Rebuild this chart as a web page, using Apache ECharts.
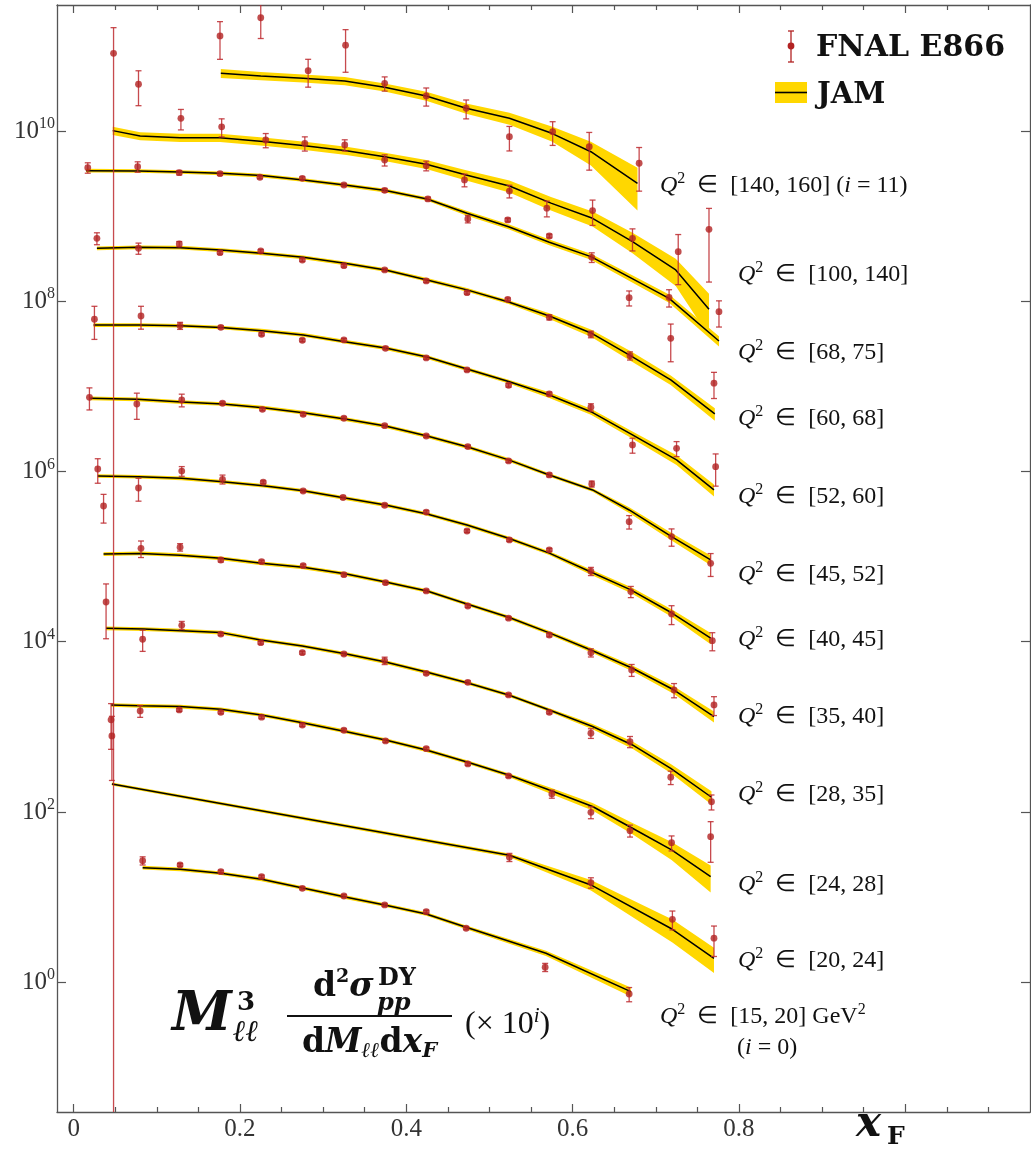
<!DOCTYPE html>
<html>
<head>
<meta charset="utf-8">
<title>E866 pp Drell-Yan vs JAM</title>
<script src="https://cdn.jsdelivr.net/npm/echarts@6/dist/echarts.min.js"></script>
<style>
  html, body { margin: 0; padding: 0; background: #fff; }
  #main { width: 1031px; height: 1149px; }
</style>
</head>
<body>
<div id="main"></div>
<script>
// ---------------------------------------------------------------
// Q^2 bins (GeV^2); each bin is drawn multiplied by 10^i
// ---------------------------------------------------------------
const binRanges = ['[15, 20]', '[20, 24]', '[24, 28]', '[28, 35]', '[35, 40]', '[40, 45]',
                   '[45, 52]', '[52, 60]', '[60, 68]', '[68, 75]', '[100, 140]', '[140, 160]'];
const scalePow = [0, 1, 2, 3, 4, 5, 6, 7, 8, 9, 10, 11];

// FNAL E866 pp: x_F of each point, one row per Q^2 bin
const e866X = [
  [0.083, 0.128, 0.177, 0.226, 0.275, 0.325, 0.374, 0.424, 0.472, 0.567, 0.668],
  [0.046, 0.524, 0.622, 0.720, 0.770],
  [0.045, 0.080, 0.127, 0.177, 0.226, 0.275, 0.325, 0.375, 0.424, 0.474, 0.523, 0.575, 0.622, 0.669, 0.719, 0.766],
  [0.039, 0.083, 0.130, 0.177, 0.225, 0.275, 0.325, 0.374, 0.424, 0.474, 0.523, 0.572, 0.622, 0.669, 0.718, 0.767],
  [0.036, 0.081, 0.128, 0.177, 0.226, 0.276, 0.325, 0.375, 0.424, 0.474, 0.523, 0.572, 0.622, 0.671, 0.722, 0.770],
  [0.029, 0.078, 0.130, 0.179, 0.228, 0.276, 0.324, 0.374, 0.424, 0.473, 0.524, 0.572, 0.622, 0.670, 0.719, 0.768],
  [0.019, 0.076, 0.130, 0.179, 0.227, 0.276, 0.325, 0.374, 0.424, 0.474, 0.523, 0.572, 0.623, 0.668, 0.719, 0.766],
  [0.025, 0.081, 0.128, 0.177, 0.226, 0.275, 0.325, 0.375, 0.424, 0.473, 0.523, 0.572, 0.622, 0.672, 0.725, 0.772],
  [0.028, 0.078, 0.127, 0.176, 0.225, 0.275, 0.325, 0.374, 0.424, 0.473, 0.522, 0.572, 0.622, 0.669, 0.718, 0.770],
  [0.017, 0.077, 0.127, 0.176, 0.224, 0.275, 0.325, 0.374, 0.426, 0.474, 0.522, 0.572, 0.623, 0.668, 0.716, 0.776],
  [0.048, 0.078, 0.129, 0.178, 0.231, 0.278, 0.326, 0.374, 0.424, 0.470, 0.524, 0.569, 0.624, 0.672, 0.727, 0.764],
  [0.176, 0.225, 0.282, 0.327, 0.374, 0.424, 0.472, 0.524, 0.576, 0.620, 0.680]
];
// M^3 d2sigma/dM dxF (before the 10^i factor)
const e866Sig = [
  [26.8, 23.9, 19.9, 17.4, 12.7, 10.3, 8.09, 6.75, 4.31, 1.50, 0.728],
  [78.2, 2.94, 1.48, 0.549, 0.329],
  [12.1, 15.4, 15.8, 14.8, 13.0, 10.5, 9.12, 6.83, 5.54, 3.67, 2.65, 1.63, 0.992, 0.604, 0.436, 0.513],
  [29.3, 10.7, 15.6, 12.3, 9.75, 7.44, 7.18, 5.99, 4.26, 3.34, 2.37, 1.48, 0.841, 0.670, 0.256, 0.132],
  [39.3, 12.5, 12.9, 9.13, 8.72, 7.83, 6.14, 4.94, 3.95, 2.63, 1.89, 1.20, 0.744, 0.466, 0.271, 0.181],
  [10.7, 6.40, 10.1, 8.10, 7.47, 5.90, 4.95, 4.01, 3.34, 2.00, 1.57, 1.20, 0.673, 0.388, 0.212, 0.103],
  [7.44, 6.21, 6.92, 6.33, 5.38, 4.70, 4.22, 3.45, 2.61, 1.96, 1.33, 0.910, 0.714, 0.257, 0.172, 0.0835],
  [6.14, 6.71, 5.16, 4.94, 4.09, 3.48, 3.51, 2.80, 2.16, 1.56, 1.03, 0.814, 0.568, 0.205, 0.187, 0.114],
  [5.49, 4.19, 4.70, 3.72, 3.89, 3.05, 2.62, 2.33, 1.73, 1.26, 1.05, 0.648, 0.409, 0.229, 0.367, 0.109],
  [3.71, 3.81, 3.24, 3.15, 2.86, 2.78, 2.32, 2.01, 1.59, 0.925, 0.901, 0.584, 0.328, 0.110, 0.111, 0.0754],
  [8.18, 3.54, 1.41, 1.12, 0.784, 0.717, 0.685, 0.456, 0.391, 0.266, 0.197, 0.124, 0.116, 0.0549, 0.0382, 0.070],
  [1.31, 2.14, 0.511, 1.02, 0.363, 0.258, 0.185, 0.0857, 0.0981, 0.0654, 0.0418]
];
// relative uncertainty of each point
const e866Err = [
  [0.11, 0.04, 0.04, 0.04, 0.04, 0.04, 0.04, 0.04, 0.04, 0.11, 0.19],
  [0.70, 0.11, 0.14, 0.25, 0.39],
  [0.55, 0.16, 0.04, 0.04, 0.04, 0.04, 0.04, 0.04, 0.04, 0.04, 0.04, 0.11, 0.16, 0.16, 0.20, 0.50],
  [0.63, 0.28, 0.11, 0.04, 0.04, 0.04, 0.04, 0.10, 0.04, 0.04, 0.04, 0.04, 0.13, 0.15, 0.18, 0.20],
  [0.37, 0.22, 0.10, 0.055, 0.04, 0.04, 0.04, 0.04, 0.04, 0.04, 0.04, 0.05, 0.11, 0.16, 0.19, 0.25],
  [0.32, 0.30, 0.13, 0.12, 0.04, 0.04, 0.04, 0.04, 0.04, 0.04, 0.04, 0.04, 0.11, 0.15, 0.25, 0.24],
  [0.29, 0.34, 0.17, 0.04, 0.04, 0.04, 0.04, 0.04, 0.04, 0.04, 0.04, 0.05, 0.08, 0.18, 0.23, 0.30],
  [0.42, 0.30, 0.095, 0.04, 0.04, 0.04, 0.04, 0.04, 0.04, 0.04, 0.05, 0.05, 0.10, 0.20, 0.20, 0.41],
  [0.16, 0.15, 0.07, 0.04, 0.04, 0.04, 0.04, 0.04, 0.04, 0.04, 0.04, 0.07, 0.09, 0.11, 0.47, 0.34],
  [0.14, 0.14, 0.06, 0.04, 0.04, 0.04, 0.04, 0.05, 0.05, 0.10, 0.05, 0.05, 0.13, 0.20, 0.23, 0.34],
  [1.00, 0.44, 0.27, 0.24, 0.19, 0.19, 0.15, 0.15, 0.13, 0.17, 0.17, 0.21, 0.33, 0.29, 0.59, 0.76],
  [0.47, 0.43, 0.36, 0.52, 0.19, 0.24, 0.25, 0.32, 0.31, 0.47, 0.53]
];

// JAM theory: x_F nodes, central value and relative band half-width
const jamX = [
  [0.083, 0.128, 0.177, 0.226, 0.274, 0.328, 0.374, 0.424, 0.472, 0.568, 0.670],
  [0.046, 0.524, 0.622, 0.720, 0.770],
  [0.045, 0.080, 0.128, 0.177, 0.226, 0.275, 0.328, 0.375, 0.424, 0.473, 0.523, 0.572, 0.624, 0.672, 0.719, 0.766],
  [0.039, 0.084, 0.130, 0.177, 0.225, 0.275, 0.328, 0.375, 0.424, 0.474, 0.523, 0.572, 0.624, 0.672, 0.718, 0.767],
  [0.036, 0.081, 0.128, 0.177, 0.226, 0.276, 0.328, 0.375, 0.425, 0.473, 0.523, 0.572, 0.622, 0.672, 0.722, 0.770],
  [0.029, 0.078, 0.130, 0.179, 0.228, 0.276, 0.328, 0.375, 0.425, 0.473, 0.523, 0.572, 0.622, 0.670, 0.720, 0.766],
  [0.020, 0.076, 0.130, 0.179, 0.228, 0.276, 0.328, 0.375, 0.425, 0.474, 0.523, 0.572, 0.624, 0.668, 0.719, 0.766],
  [0.024, 0.080, 0.128, 0.177, 0.226, 0.276, 0.326, 0.375, 0.425, 0.473, 0.523, 0.572, 0.622, 0.672, 0.725, 0.770],
  [0.028, 0.078, 0.128, 0.177, 0.226, 0.276, 0.326, 0.375, 0.425, 0.473, 0.523, 0.572, 0.622, 0.670, 0.718, 0.771],
  [0.015, 0.078, 0.128, 0.177, 0.226, 0.276, 0.326, 0.375, 0.425, 0.473, 0.523, 0.572, 0.622, 0.670, 0.716, 0.776],
  [0.047, 0.080, 0.128, 0.176, 0.231, 0.278, 0.328, 0.374, 0.424, 0.472, 0.524, 0.574, 0.624, 0.672, 0.724, 0.764],
  [0.177, 0.225, 0.276, 0.326, 0.374, 0.424, 0.472, 0.524, 0.575, 0.622, 0.678]
];
const jamSig = [
  [22.2, 21.2, 19.1, 16.2, 12.9, 9.96, 8.09, 6.34, 4.42, 2.19, 0.775],
  [21.3, 3.10, 1.39, 0.419, 0.191],
  [18.1, 17.7, 17.3, 16.1, 13.8, 11.2, 8.78, 7.02, 5.35, 3.87, 2.72, 1.81, 1.16, 0.644, 0.358, 0.174],
  [14.4, 14.1, 13.5, 12.8, 10.5, 8.92, 7.18, 5.78, 4.41, 3.28, 2.37, 1.58, 1.01, 0.613, 0.326, 0.149],
  [10.7, 10.9, 10.4, 9.56, 8.35, 7.50, 6.25, 5.04, 3.95, 2.78, 1.94, 1.27, 0.800, 0.488, 0.271, 0.132],
  [8.86, 8.69, 8.32, 7.59, 6.81, 5.95, 4.85, 4.04, 3.17, 2.35, 1.64, 1.10, 0.660, 0.406, 0.216, 0.110],
  [7.24, 7.05, 6.55, 6.21, 5.62, 4.91, 4.11, 3.42, 2.61, 1.94, 1.37, 0.910, 0.607, 0.353, 0.172, 0.0913],
  [5.26, 5.26, 5.16, 4.92, 4.51, 4.02, 3.35, 2.82, 2.21, 1.60, 1.14, 0.792, 0.504, 0.269, 0.137, 0.0607],
  [4.19, 4.30, 4.26, 4.00, 3.66, 3.28, 2.79, 2.33, 1.78, 1.36, 0.980, 0.671, 0.424, 0.228, 0.119, 0.0474],
  [3.42, 3.39, 3.30, 3.18, 2.99, 2.66, 2.32, 2.00, 1.59, 1.08, 0.751, 0.493, 0.334, 0.188, 0.108, 0.0341],
  [1.01, 0.873, 0.834, 0.834, 0.749, 0.672, 0.587, 0.499, 0.406, 0.304, 0.226, 0.142, 0.0943, 0.0501, 0.0233, 0.00804],
  [0.477, 0.443, 0.416, 0.387, 0.326, 0.258, 0.185, 0.141, 0.0939, 0.0571, 0.0243]
];
const jamUnc = [
  [0.05, 0.05, 0.05, 0.05, 0.05, 0.05, 0.05, 0.05, 0.05, 0.07, 0.12],
  [0.04, 0.05, 0.14, 0.30, 0.33],
  [0.05, 0.05, 0.05, 0.05, 0.05, 0.05, 0.05, 0.05, 0.05, 0.05, 0.05, 0.08, 0.10, 0.15, 0.24, 0.35],
  [0.05, 0.05, 0.05, 0.05, 0.05, 0.05, 0.05, 0.05, 0.05, 0.05, 0.05, 0.05, 0.07, 0.10, 0.12, 0.18],
  [0.05, 0.05, 0.05, 0.05, 0.05, 0.05, 0.05, 0.05, 0.05, 0.05, 0.05, 0.05, 0.06, 0.08, 0.10, 0.15],
  [0.05, 0.05, 0.05, 0.05, 0.05, 0.05, 0.05, 0.05, 0.05, 0.05, 0.05, 0.05, 0.07, 0.08, 0.10, 0.15],
  [0.05, 0.05, 0.05, 0.05, 0.05, 0.05, 0.05, 0.05, 0.05, 0.05, 0.05, 0.05, 0.05, 0.08, 0.10, 0.13],
  [0.05, 0.05, 0.05, 0.05, 0.05, 0.05, 0.05, 0.05, 0.05, 0.05, 0.05, 0.08, 0.08, 0.10, 0.13, 0.16],
  [0.05, 0.05, 0.05, 0.05, 0.05, 0.05, 0.05, 0.05, 0.05, 0.05, 0.05, 0.08, 0.10, 0.13, 0.13, 0.17],
  [0.05, 0.05, 0.05, 0.05, 0.05, 0.05, 0.05, 0.05, 0.05, 0.065, 0.065, 0.08, 0.08, 0.10, 0.11, 0.14],
  [0.11, 0.11, 0.11, 0.11, 0.11, 0.11, 0.11, 0.11, 0.12, 0.14, 0.16, 0.18, 0.20, 0.27, 0.35, 0.52],
  [0.12, 0.11, 0.11, 0.11, 0.11, 0.12, 0.14, 0.16, 0.20, 0.31, 0.52]
];

// axis ticks
const xLabelTicks = [0, 0.2, 0.4, 0.6, 0.8];
const yLabelTicks = [1, 1e2, 1e4, 1e6, 1e8, 1e10];

// ---------------------------------------------------------------
// layout and styling
// ---------------------------------------------------------------
const X_MIN = -0.02, X_MAX = 1.15;
const Y_MIN = 0.0299, Y_MAX = 3.02e11;
const RED = '#b22222';
const GOLD = '#ffd700';
const FRAME = '#555555';
const INK = '#111111';
const SERIF = "'Liberation Serif', 'Times New Roman', serif";
const DVS = "'DejaVu Serif', serif";

// left edge / vertical centre of each bin's Q^2 caption
const captionPos = [[660, 1017], [738, 961], [738, 885], [738, 795], [738, 717], [738, 640],
                    [738, 575], [738, 497], [738, 419], [738, 353], [738, 275], [660, 186]];

const majorX = [0, 0.2, 0.4, 0.6, 0.8, 1.0];
const minorX = [];
for (let n = 1; n <= 22; n++) { if (n % 4 !== 0) minorX.push(+(n * 0.05).toFixed(2)); }

const chart = echarts.init(document.getElementById('main'));

// flatten the per-bin tables into series data
const barData = [], dotData = [], bandData = [], jamLines = [];
binRanges.forEach((_, k) => {
  const f = Math.pow(10, scalePow[k]);
  e866X[k].forEach((x, j) => {
    const v = e866Sig[k][j] * f;
    const e = e866Err[k][j] * v;
    barData.push([x, v, Math.max(v - e, Y_MIN), v + e]);
    dotData.push([x, v]);
  });
  bandData.push([jamX[k][0], jamSig[k][0] * f]);
  jamLines.push({
    type: 'line', name: 'JAM ' + binRanges[k], z: 3, silent: true,
    showSymbol: false, symbol: 'none', clip: true,
    lineStyle: { color: '#000', width: 1.5 },
    data: jamX[k].map((x, j) => [x, jamSig[k][j] * f])
  });
});

const tickLine = { color: FRAME, width: 1.2 };
const frameLine = { color: FRAME, width: 1.3 };

function xAxisDef(pos, ticks, len, withLine, withLabels) {
  return {
    type: 'value', position: pos, min: X_MIN, max: X_MAX, gridIndex: 0,
    axisLine: { show: withLine, onZero: false, lineStyle: frameLine },
    axisTick: { show: true, inside: true, length: len, customValues: ticks, lineStyle: tickLine },
    axisLabel: withLabels ? {
      show: true, customValues: xLabelTicks, margin: 5,
      fontFamily: SERIF, fontSize: 25, color: '#333',
      formatter: v => (v === 0 ? '0' : v.toFixed(1))
    } : { show: false },
    splitLine: { show: false }, minorTick: { show: false }
  };
}
function yAxisDef(pos, withLabels) {
  return {
    type: 'log', logBase: 10, position: pos, min: Y_MIN, max: Y_MAX, gridIndex: 0,
    axisLine: { show: true, onZero: false, lineStyle: frameLine },
    axisTick: { show: true, inside: true, length: 9, customValues: yLabelTicks, lineStyle: tickLine },
    axisLabel: withLabels ? {
      show: true, customValues: yLabelTicks, margin: 2,
      formatter: v => '{b|10}{s|' + Math.round(Math.log10(v)) + '}',
      rich: {
        b: { fontFamily: SERIF, fontSize: 25, color: '#333', lineHeight: 30 },
        s: { fontFamily: SERIF, fontSize: 16, color: '#333', lineHeight: 16, verticalAlign: 'top' }
      }
    } : { show: false },
    splitLine: { show: false }, minorTick: { show: false }
  };
}

// ---------- text & legend graphics ----------
const qRich = {
  q: { fontFamily: SERIF, fontSize: 24, fontStyle: 'italic', lineHeight: 30, fill: INK },
  s: { fontFamily: SERIF, fontSize: 16, lineHeight: 16, verticalAlign: 'top', fill: INK },
  n: { fontFamily: SERIF, fontSize: 24, lineHeight: 30, fill: INK }
};
function text(x, y, str, extra) {
  return { type: 'text', x: x, y: y, z: 100, silent: true,
    style: Object.assign({ text: str, fill: INK, align: 'left', verticalAlign: 'middle' }, extra || {}) };
}
function seg(x1, y1, x2, y2, color, w) {
  return { type: 'line', z: 100, silent: true, shape: { x1, y1, x2, y2 }, style: { stroke: color, lineWidth: w } };
}

const graphics = [];
binRanges.forEach((r, k) => {
  let s = '{q|Q}{s|2}{n|  \u2208  ' + r + '}';
  if (k === binRanges.length - 1) s += '{n| (}{q|i}{n| = ' + scalePow[k] + ')}';
  if (k === 0) s += '{n| GeV}{s|2}';
  graphics.push(text(captionPos[k][0], captionPos[k][1], s, { rich: qRich }));
});
graphics.push(text(737, 1048, '{n|(}{q|i}{n| = ' + scalePow[0] + ')}', { rich: qRich }));

// legend
graphics.push(seg(791, 31, 791, 62, RED, 1.3));
graphics.push(seg(788, 31, 794, 31, RED, 1.3));
graphics.push(seg(788, 62, 794, 62, RED, 1.3));
graphics.push({ type: 'circle', z: 100, silent: true, shape: { cx: 791, cy: 46, r: 3.4 }, style: { fill: RED } });
graphics.push(text(816, 48, 'FNAL E866', { font: 'bold 30px ' + DVS }));
graphics.push({ type: 'rect', z: 100, silent: true, shape: { x: 775, y: 82, width: 32, height: 21 }, style: { fill: GOLD } });
graphics.push(seg(775, 92.5, 807, 92.5, '#000', 1.6));
graphics.push(text(817, 95, 'JAM', { font: 'bold 29px ' + DVS }));

// observable: M^3 d2sigma/(dM dxF) (x 10^i)
graphics.push(text(172, 1016, 'M', { font: 'italic bold 54px ' + DVS }));
graphics.push(text(237, 1003, '3', { font: 'bold 26px ' + DVS }));
graphics.push(text(233, 1033, '\u2113\u2113', { font: 'italic bold 30px ' + DVS }));
graphics.push(text(313, 987, '{b|d}{s|2}{bi|\u03c3}', { rich: {
  b: { fontFamily: DVS, fontWeight: 'bold', fontSize: 33, lineHeight: 38, fill: INK },
  s: { fontFamily: DVS, fontWeight: 'bold', fontSize: 19, lineHeight: 19, verticalAlign: 'top', fill: INK },
  bi: { fontFamily: DVS, fontWeight: 'bold', fontStyle: 'italic', fontSize: 33, lineHeight: 38, fill: INK }
} }));
graphics.push(text(378, 979, 'DY', { font: 'bold 24px ' + DVS }));
graphics.push(text(377, 1004, 'pp', { font: 'italic bold 24px ' + DVS }));
graphics.push(seg(287, 1016, 452, 1016, INK, 2));
graphics.push(text(369.5, 1043, '{b|d}{bi|M}{u|\u2113\u2113}{b|d}{bi|x}{u|F}', { align: 'center', rich: {
  b: { fontFamily: DVS, fontWeight: 'bold', fontSize: 33, lineHeight: 38, fill: INK },
  bi: { fontFamily: DVS, fontWeight: 'bold', fontStyle: 'italic', fontSize: 33, lineHeight: 38, fill: INK },
  u: { fontFamily: DVS, fontWeight: 'bold', fontStyle: 'italic', fontSize: 21, lineHeight: 24, verticalAlign: 'bottom', fill: INK }
} }));
graphics.push(text(465, 1025, '{n|(\u00d7 10}{s|i}{n|)}', { rich: {
  n: { fontFamily: SERIF, fontSize: 32, lineHeight: 38, fill: INK },
  s: { fontFamily: SERIF, fontStyle: 'italic', fontSize: 21, lineHeight: 21, verticalAlign: 'top', fill: INK }
} }));

// x-axis title
graphics.push(text(856, 1125, 'x', { font: 'italic bold 42px ' + DVS }));
graphics.push(text(887, 1137, 'F', { font: 'bold 25px ' + DVS }));

// ---------------------------------------------------------------
const option = {
  animation: false,
  backgroundColor: '#fff',
  grid: { left: 57, right: 1, top: 5, bottom: 37, containLabel: false },
  xAxis: [
    xAxisDef('bottom', majorX, 8, true, true),
    xAxisDef('bottom', minorX, 5, false, false),
    xAxisDef('top', majorX, 8, true, false),
    xAxisDef('top', minorX, 5, false, false)
  ],
  yAxis: [yAxisDef('left', true), yAxisDef('right', false)],
  series: [
    {
      // JAM uncertainty bands
      type: 'custom', name: 'JAM band', z: 1, silent: true, clip: true,
      xAxisIndex: 0, yAxisIndex: 0,
      data: bandData,
      renderItem: function (params, api) {
        const k = params.dataIndex;
        const f = Math.pow(10, scalePow[k]);
        const up = [], dn = [];
        jamX[k].forEach((x, j) => {
          const c = jamSig[k][j] * f, u = jamUnc[k][j] * c;
          up.push(api.coord([x, c + u]));
          dn.push(api.coord([x, Math.max(c - u, Y_MIN)]));
        });
        return { type: 'polygon', shape: { points: up.concat(dn.reverse()) }, style: { fill: GOLD } };
      }
    },
    ...jamLines,
    {
      // E866 error bars
      type: 'custom', name: 'E866 errors', z: 4, silent: true, clip: true,
      xAxisIndex: 0, yAxisIndex: 0,
      encode: { x: 0, y: 1 },
      data: barData,
      renderItem: function (params, api) {
        const x = api.value(0), lo = api.value(2), hi = api.value(3);
        const pHi = api.coord([x, hi]);
        const pLo = api.coord([x, lo]);
        const st = { stroke: '#bd2a2f', lineWidth: 1.3, opacity: 0.85 };
        const cap = 3;
        const kids = [
          { type: 'line', shape: { x1: pHi[0], y1: pHi[1], x2: pLo[0], y2: pLo[1] }, style: st },
          { type: 'line', shape: { x1: pHi[0] - cap, y1: pHi[1], x2: pHi[0] + cap, y2: pHi[1] }, style: st }
        ];
        if (lo > Y_MIN) {
          kids.push({ type: 'line', shape: { x1: pLo[0] - cap, y1: pLo[1], x2: pLo[0] + cap, y2: pLo[1] }, style: st });
        }
        return { type: 'group', children: kids };
      }
    },
    {
      type: 'scatter', name: 'FNAL E866', z: 5, silent: true,
      xAxisIndex: 0, yAxisIndex: 0,
      symbol: 'circle', symbolSize: 6.8,
      itemStyle: { color: RED },
      data: dotData
    }
  ],
  graphic: graphics
};

chart.setOption(option);
</script>
</body>
</html>
